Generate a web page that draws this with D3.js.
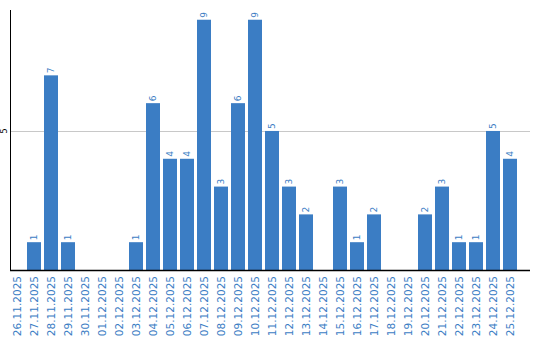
<!DOCTYPE html>
<html>
<head>
<meta charset="utf-8">
<script src="https://cdn.jsdelivr.net/npm/d3@7"></script>
<style>
  body { margin: 0; background: #fff; }
  text { font-family: "DejaVu Sans", sans-serif; }
</style>
</head>
<body>
<svg id="chart" width="540" height="340"></svg>
<script>
var days = ["26.11.2025","27.11.2025","28.11.2025","29.11.2025","30.11.2025",
  "01.12.2025","02.12.2025","03.12.2025","04.12.2025","05.12.2025",
  "06.12.2025","07.12.2025","08.12.2025","09.12.2025","10.12.2025",
  "11.12.2025","12.12.2025","13.12.2025","14.12.2025","15.12.2025",
  "16.12.2025","17.12.2025","18.12.2025","19.12.2025","20.12.2025",
  "21.12.2025","22.12.2025","23.12.2025","24.12.2025","25.12.2025"];
var counts = [0,1,7,1,0, 0,0,1,6,4, 4,9,3,6,9, 5,3,2,0,3, 1,2,0,0,2, 3,1,1,5,4];
var yTicks = [5];

var svg = d3.select("#chart");
var blue = "#3b7dc4";

var x = d3.scaleBand()
    .domain(days)
    .range([10, 517])
    .paddingInner(3 / 17)
    .paddingOuter(0);

var y = d3.scaleLinear()
    .domain([0, 9.35])
    .range([270, 10]);

// grid
svg.selectAll("line.grid")
  .data(yTicks)
  .enter().append("line")
    .attr("class", "grid")
    .attr("x1", 11).attr("x2", 530)
    .attr("y1", function(d) { return Math.round(y(d)) + 0.5; })
    .attr("y2", function(d) { return Math.round(y(d)) + 0.5; })
    .attr("stroke", "#c8c8c8");

// y tick labels
svg.selectAll("text.ytick")
  .data(yTicks)
  .enter().append("text")
    .attr("class", "ytick")
    .attr("transform", function(d) { return "translate(7," + y(d) + ") rotate(-90)"; })
    .attr("text-anchor", "middle")
    .style("font-size", "8px")
    .attr("fill", "#000")
    .text(function(d) { return d; });

// bars
svg.selectAll("rect.bar")
  .data(counts)
  .enter().append("rect")
    .attr("class", "bar")
    .attr("x", function(d, i) { return x(days[i]); })
    .attr("width", x.bandwidth())
    .attr("y", function(d) { return y(d); })
    .attr("height", function(d) { return 270 - y(d); })
    .attr("fill", blue);

// value labels (only non-zero)
counts.forEach(function(d, i) {
  if (d <= 0) return;
  svg.append("text")
    .attr("class", "val")
    .attr("transform", "translate(" + (x(days[i]) + x.bandwidth() / 2 + 3) + "," + (y(d) - 2) + ") rotate(-90)")
    .attr("text-anchor", "start")
    .style("font-size", "9px")
    .attr("fill", blue)
    .text(d);
});

// x labels
svg.selectAll("text.xlab")
  .data(days)
  .enter().append("text")
    .attr("class", "xlab")
    .attr("transform", function(d) {
      return "translate(" + (x(d) + x.bandwidth() / 2 + 4) + ",276) rotate(-90)";
    })
    .attr("text-anchor", "end")
    .style("font-size", "10.5px")
    .attr("fill", blue)
    .text(function(d) { return d; });

// axes lines
svg.append("line")
    .attr("x1", 10.5).attr("x2", 10.5)
    .attr("y1", 10).attr("y2", 271)
    .attr("stroke", "#000");
svg.append("line")
    .attr("x1", 10).attr("x2", 530)
    .attr("y1", 270.5).attr("y2", 270.5)
    .attr("stroke", "#000")
    .attr("stroke-width", 1.3);
</script>
</body>
</html>
